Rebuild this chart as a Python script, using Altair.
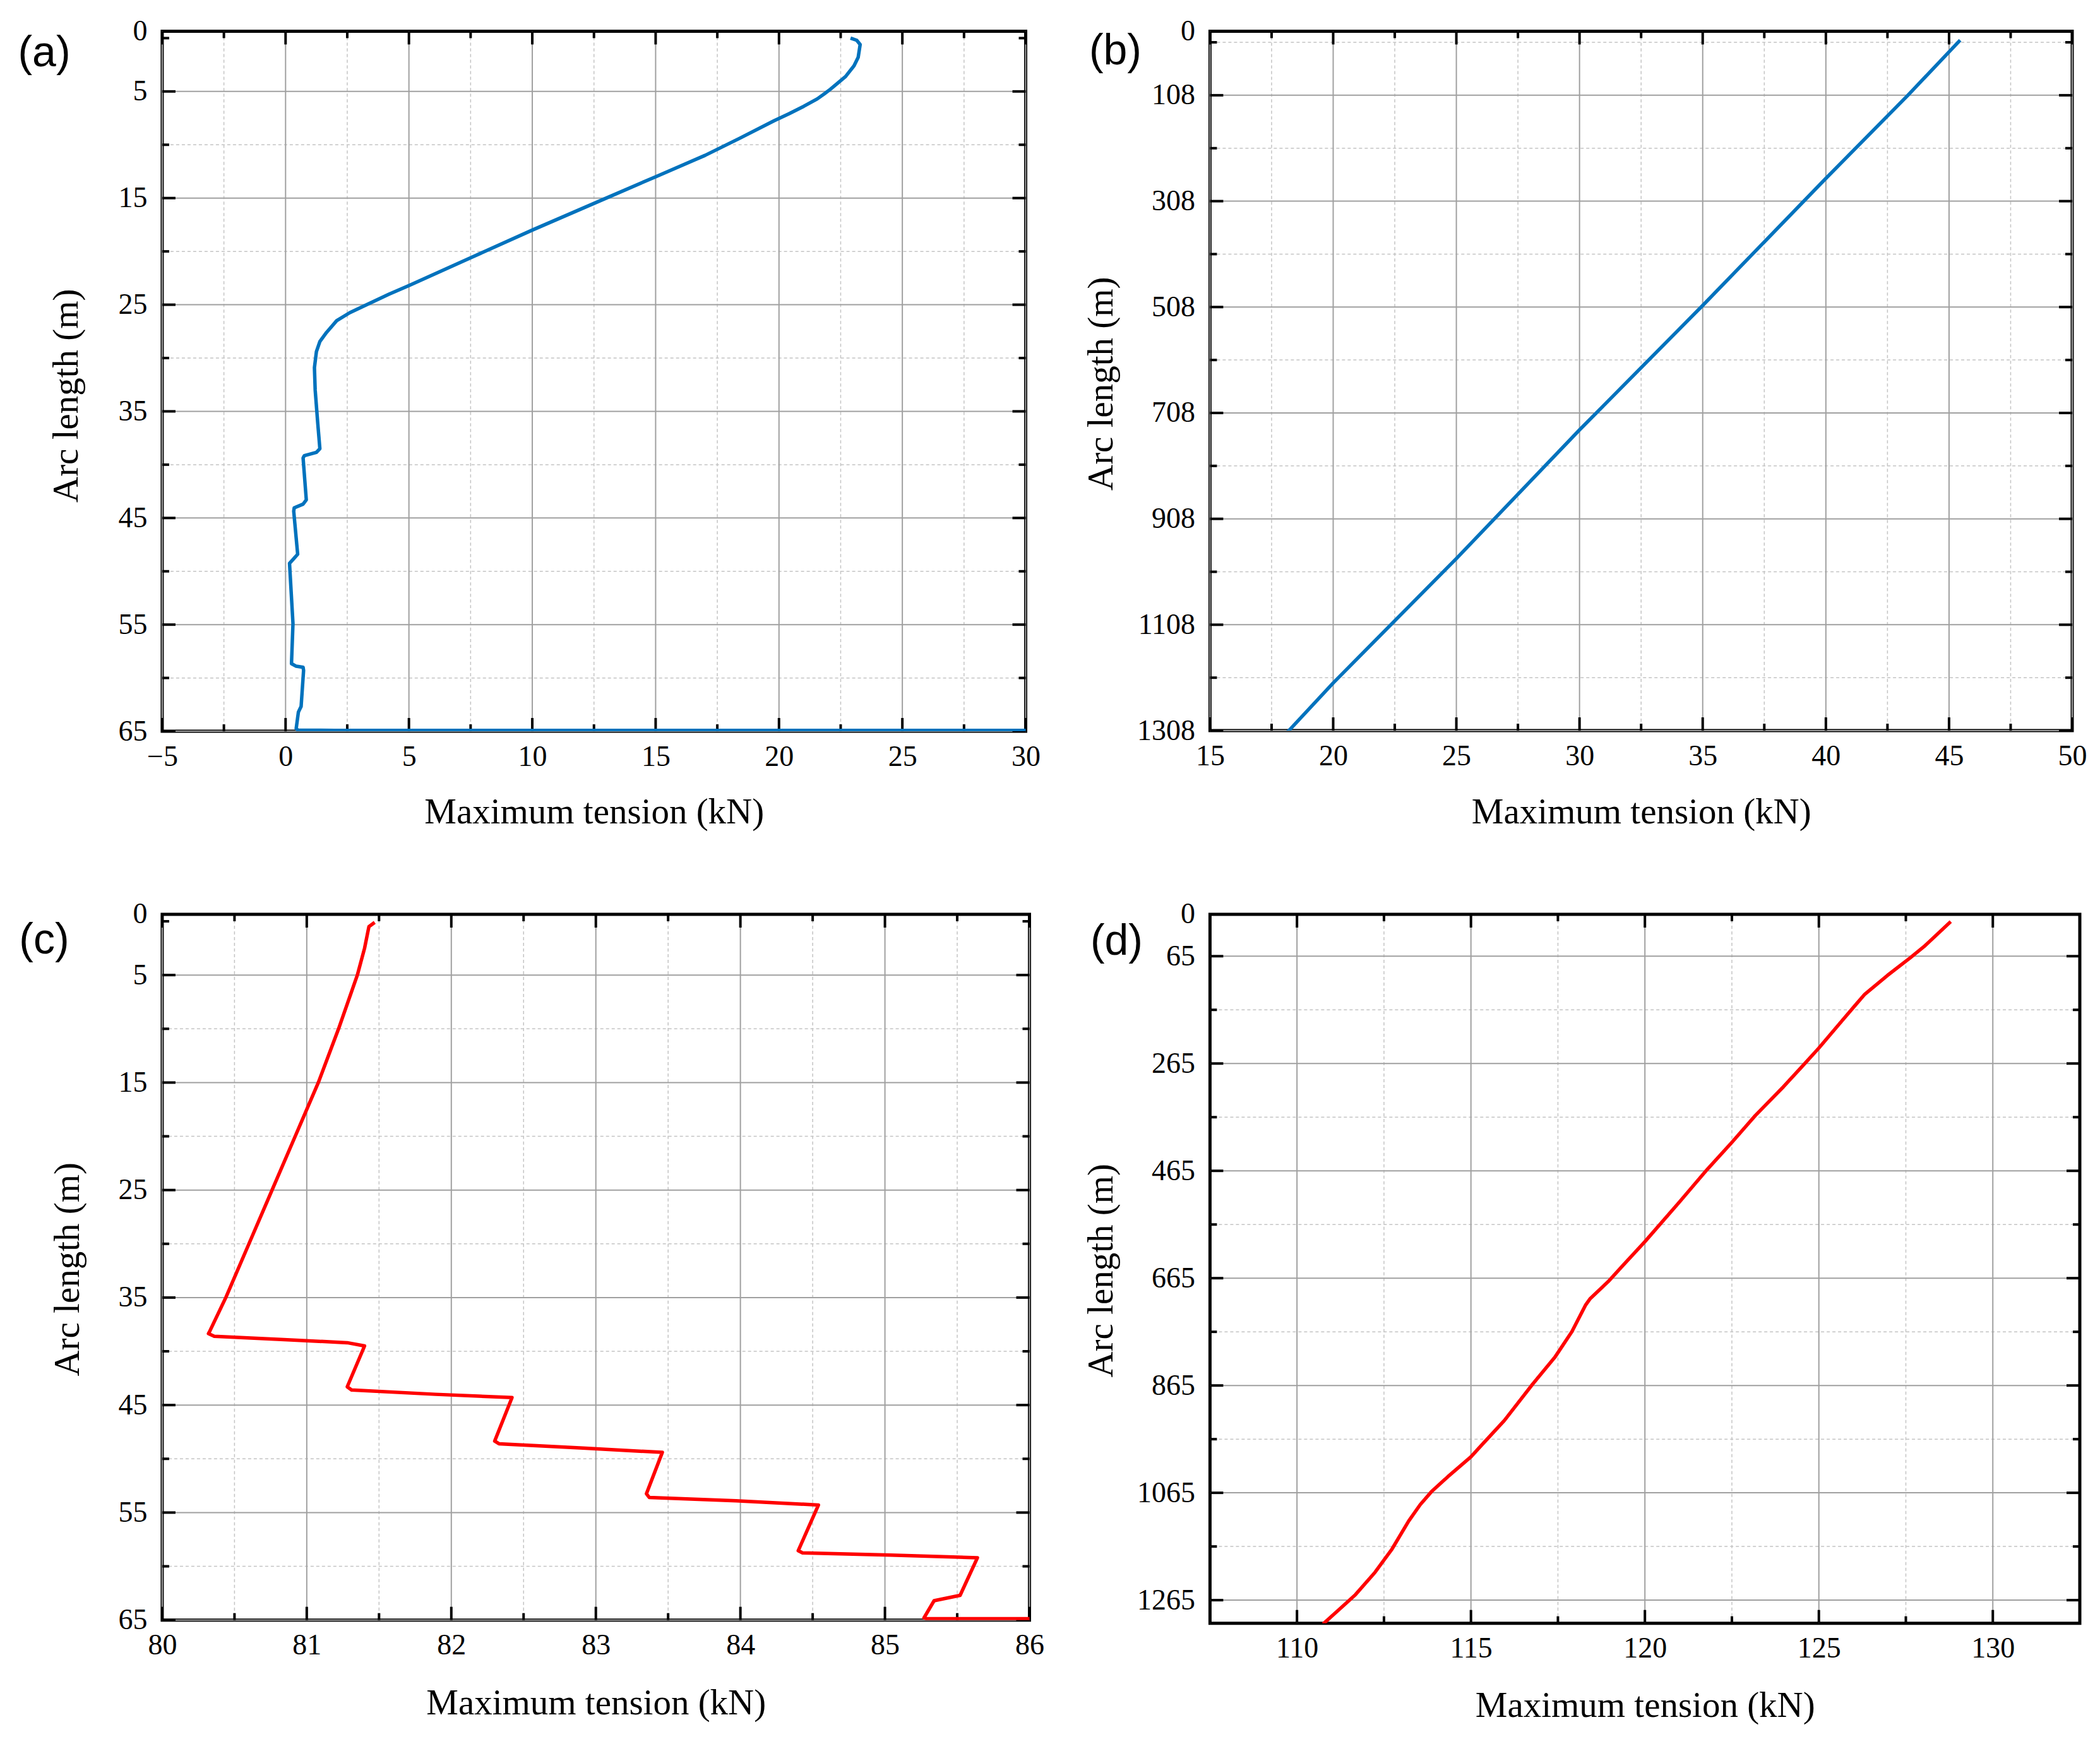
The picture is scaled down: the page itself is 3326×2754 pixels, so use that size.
import altair as alt
import pandas as pd

# (a) tension along the upper cable (blue)
a_tension = [22.9, 23.15, 23.29, 23.21, 23.04, 22.70, 22.09, 21.85, 21.55, 21.0, 20.4,
             19.8, 18.4, 17.0, 15.0, 12.9, 10.0, 7.5, 5.0, 4.2, 3.29, 2.6, 2.07, 1.66,
             1.39, 1.25, 1.17, 1.2, 1.3, 1.39, 1.25, 0.76, 0.71, 0.84, 0.71, 0.35, 0.33,
             0.49, 0.30, 0.16, 0.30, 0.24, 0.43, 0.71, 0.73, 0.63, 0.52, 0.43, 0.5, 2.0,
             60.0]
a_arc = [0.0, 0.2, 0.6, 1.8, 2.6, 3.6, 4.78, 5.2, 5.7, 6.4, 7.1,
         7.75, 9.4, 11.0, 13.0, 15.1, 18.0, 20.6, 23.2, 24.0, 25.0, 25.75, 26.5, 27.6,
         28.45, 29.4, 30.9, 33.0, 36.0, 38.5, 38.85, 39.16, 39.37, 43.3, 43.7, 44.05, 44.36,
         48.4, 48.9, 49.25, 54.9, 58.66, 58.9, 59.0, 59.3, 62.67, 63.2, 64.75, 64.9, 64.92,
         64.92]

# (b)
b_tension = [45.45, 43.33, 40.0, 35.0, 30.0, 25.0, 20.0, 18.2, 18.1]
b_arc = [4, 108, 265, 505, 740, 983, 1218, 1308, 1312]

# (c) (red)
c_tension = [81.47, 81.43, 81.40, 81.35, 81.22, 81.08, 80.92, 80.76, 80.60, 80.44,
             80.33, 80.32, 80.36, 80.82, 81.28, 81.40, 81.28, 81.31, 81.89, 82.42,
             82.30, 82.33, 82.91, 83.46, 83.35, 83.37, 83.97, 84.54, 84.40, 84.43,
             85.04, 85.64, 85.52, 85.34, 85.27, 85.29, 90.0]
c_arc = [0.1, 0.5, 2.5, 5.0, 10.0, 15.0, 20.0, 25.0, 30.0, 35.0,
         38.1, 38.36, 38.6, 38.9, 39.2, 39.5, 43.3, 43.6, 44.0, 44.3,
         48.35, 48.6, 49.0, 49.4, 53.25, 53.6, 53.9, 54.3, 58.55, 58.75,
         58.96, 59.2, 62.7, 63.2, 64.8, 64.88, 64.88]

# (d)
d_tension = [128.79, 128.02, 127.62, 126.97, 126.32, 126.04, 125.67, 125.0, 124.54,
             123.98, 123.17, 122.51, 121.79, 120.99, 120.0, 119.35, 118.95, 118.42,
             118.30, 117.9, 117.41, 116.77, 115.96, 115.31, 115.0, 114.34, 113.86,
             113.54, 113.21, 112.73, 112.24, 111.68, 111.2, 110.75]
d_arc = [0.6, 47.3, 68.3, 100.9, 135.9, 156.9, 184.9, 236.2, 268.9,
         308.5, 362.2, 411.2, 462.5, 523.2, 597, 642.7, 671, 703.7,
         714.6, 764.7, 812.6, 862.8, 930.3, 976, 998, 1034.8, 1063.2,
         1087.2, 1117.6, 1169.9, 1213.4, 1254.8, 1283.2, 1309.4]

# tick positions of each panel
a_x_major = [-5, 0, 5, 10, 15, 20, 25, 30]
a_x_minor = [-2.5, 2.5, 7.5, 12.5, 17.5, 22.5, 27.5]
b_x_major = [15, 20, 25, 30, 35, 40, 45, 50]
b_x_minor = [17.5, 22.5, 27.5, 32.5, 37.5, 42.5, 47.5]
c_x_major = [80, 81, 82, 83, 84, 85, 86]
c_x_minor = [80.5, 81.5, 82.5, 83.5, 84.5, 85.5]
d_x_major = [110, 115, 120, 125, 130]
d_x_minor = [112.5, 117.5, 122.5, 127.5]

ac_y_major = [5, 15, 25, 35, 45, 55, 65]
ac_y_minor = [0, 10, 20, 30, 40, 50, 60]
b_y_major = [108, 308, 508, 708, 908, 1108, 1308]
b_y_minor = [8, 208, 408, 608, 808, 1008, 1208]
d_y_major = [65, 265, 465, 665, 865, 1065, 1265]
d_y_minor = [165, 365, 565, 765, 965, 1165]

SERIF = "Liberation Serif"
MAJOR_LEN, MINOR_LEN = 21, 11


def panel(tag, tension, arc, colour, x_dom, x_major, x_minor, y_dom, y_major, y_minor,
          y_minor_grid, w, h, tag_xy, ytitle_xy, xtitle_y):
    xs = alt.Scale(domain=x_dom, nice=False, zero=False)
    ys = alt.Scale(domain=y_dom, nice=False, zero=False, reverse=True)
    # one axis definition shared by every layer, so the merged axis keeps it
    x_axis = alt.Axis(
        values=x_major, ticks=False, domain=False, grid=False, labelFlush=False,
        labelOverlap=False, labelFont=SERIF, labelFontSize=46, labelColor="black",
        labelPadding=18, title="Maximum tension (kN)", titleFont=SERIF,
        titleFontSize=57, titleFontWeight="normal", titleColor="black",
        titleY=xtitle_y, titleBaseline="alphabetic")
    y_axis = alt.Axis(
        values=[y_dom[0]] + y_major, format="d",
        labelExpr="datum.value < 0 ? '0' : datum.label",
        ticks=False, domain=False, grid=False, labelFlush=False, labelOverlap=False,
        labelFont=SERIF, labelFontSize=46, labelColor="black", labelPadding=24,
        title="Arc length (m)", titleFont=SERIF, titleFontSize=57,
        titleFontWeight="normal", titleColor="black", titleAngle=270,
        titleX=ytitle_xy[0], titleY=ytitle_xy[1], titleBaseline="alphabetic")

    def X(field):
        return alt.X(field, scale=xs, axis=x_axis)

    def Y(field):
        return alt.Y(field, scale=ys, axis=y_axis)

    def vals(v):
        return pd.DataFrame({"v": v})

    layers = [
        # grid
        alt.Chart(vals(x_minor)).mark_rule(color="#c4c4c4", strokeWidth=1.5, strokeDash=[5, 4])
        .encode(x=X("v:Q")),
        alt.Chart(vals(y_minor_grid)).mark_rule(color="#c4c4c4", strokeWidth=1.5, strokeDash=[5, 4])
        .encode(y=Y("v:Q")),
        alt.Chart(vals(x_major)).mark_rule(color="#a0a0a0", strokeWidth=2)
        .encode(x=X("v:Q")),
        alt.Chart(vals(y_major)).mark_rule(color="#a0a0a0", strokeWidth=2)
        .encode(y=Y("v:Q")),
    ]

    # inward ticks on all four sides
    for v, n in ((x_major, MAJOR_LEN), (x_minor, MINOR_LEN)):
        layers.append(alt.Chart(vals(v)).mark_rule(color="black", strokeWidth=4).encode(
            x=X("v:Q"), y=alt.value(0), y2=alt.value(n)))
        layers.append(alt.Chart(vals(v)).mark_rule(color="black", strokeWidth=4).encode(
            x=X("v:Q"), y=alt.value(h), y2=alt.value(h - n)))
    for v, n in ((y_major, MAJOR_LEN), (y_minor, MINOR_LEN)):
        layers.append(alt.Chart(vals(v)).mark_rule(color="black", strokeWidth=4).encode(
            y=Y("v:Q"), x=alt.value(0), x2=alt.value(n)))
        layers.append(alt.Chart(vals(v)).mark_rule(color="black", strokeWidth=4).encode(
            y=Y("v:Q"), x=alt.value(w), x2=alt.value(w - n)))

    curve = pd.DataFrame({"i": range(len(tension)), "tension": tension, "arc": arc})
    line = alt.Chart(curve).mark_line(color=colour, strokeWidth=5.5, clip=True,
                                      strokeJoin="round").encode(
        x=X("tension:Q"), y=Y("arc:Q"), order="i:Q")

    label = alt.Chart(pd.DataFrame({"tag": [tag]})).mark_text(
        font="Liberation Sans", fontSize=68, color="black", align="center", baseline="middle"
    ).encode(text="tag:N", x=alt.value(tag_xy[0]), y=alt.value(tag_xy[1]))

    return alt.layer(*layers, line, label).properties(width=w, height=h)


pa = panel("(a)", a_tension, a_arc, "#0072bd", [-5, 30], a_x_major, a_x_minor,
           [-0.65, 65], ac_y_major, ac_y_minor, ac_y_minor[1:], 1368, 1109,
           (-187, 36), (-134, 577), 145)
pb = panel("(b)", b_tension, b_arc, "#0072bd", [15, 50], b_x_major, b_x_minor,
           [-13, 1308], b_y_major, b_y_minor, b_y_minor, 1366, 1108,
           (-150, 33), (-155, 558), 146)
pc = panel("(c)", c_tension, c_arc, "#ff0000", [80, 86], c_x_major, c_x_minor,
           [-0.65, 65], ac_y_major, ac_y_minor, ac_y_minor[1:], 1374, 1118,
           (-187, 42), (-132, 562), 149)
pd_ = panel("(d)", d_tension, d_arc, "#ff0000", [107.5, 132.5], d_x_major, d_x_minor,
            [-13, 1308], d_y_major, d_y_minor, d_y_minor, 1378, 1123,
            (-148, 44), (-155, 564), 148)

chart = alt.concat(pa, pb, pc, pd_, columns=2, bounds="flush",
                   spacing={"row": 290, "column": 286}).properties(
    padding={"left": 17, "top": 15, "right": 10, "bottom": 10},
    background="white",
).configure_view(stroke="black", strokeWidth=5)

chart.save("out.html", embed_options={"renderer": "svg", "actions": False})
